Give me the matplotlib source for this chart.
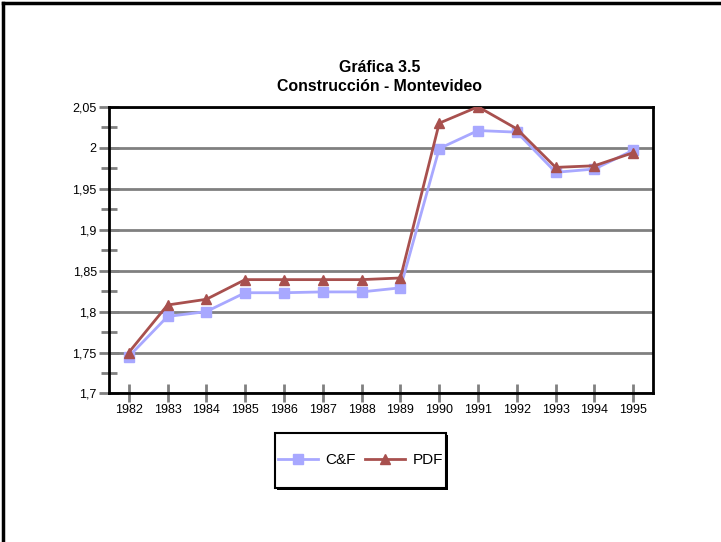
import matplotlib.pyplot as plt
from matplotlib.ticker import MultipleLocator, FuncFormatter
from matplotlib.patches import Rectangle

plt.rcParams['font.family'] = ['Liberation Sans', 'DejaVu Sans']

years = ['1982', '1983', '1984', '1985', '1986', '1987', '1988',
         '1989', '1990', '1991', '1992', '1993', '1994', '1995']
cf = [1.745, 1.794, 1.800, 1.823, 1.823, 1.824, 1.824,
      1.829, 1.999, 2.021, 2.019, 1.970, 1.974, 1.997]
pdf = [1.750, 1.808, 1.815, 1.839, 1.839, 1.839, 1.839,
       1.841, 2.030, 2.050, 2.023, 1.976, 1.978, 1.994]

fig = plt.figure(figsize=(7.21, 5.42), dpi=100)

# outer frame (only top and left edges visible)
fig.add_artist(plt.Line2D([0.004, 0.004], [0, 0.994], color='black', lw=2.5,
                          transform=fig.transFigure))
fig.add_artist(plt.Line2D([0.004, 1], [0.994, 0.994], color='black', lw=2.5,
                          transform=fig.transFigure))

ax = fig.add_axes([0.1516, 0.274, 0.7537, 0.529])
x = list(range(len(years)))

ax.plot(x, cf, color='#A8A8FF', lw=2, marker='s', markersize=7,
        markeredgecolor='#A8A8FF', label='C&F', zorder=3)
ax.plot(x, pdf, color='#A8504E', lw=2, marker='^', markersize=7,
        markeredgecolor='#A8504E', label='PDF', zorder=4)

ax.set_xlim(-0.5, 13.5)
ax.set_ylim(1.7, 2.05)
ax.set_xticks(x)
ax.set_xticklabels(years)
ax.yaxis.set_major_locator(MultipleLocator(0.05))
ax.yaxis.set_minor_locator(MultipleLocator(0.025))
ax.yaxis.set_major_formatter(FuncFormatter(
    lambda v, p: ('%g' % round(v, 3)).replace('.', ',')))

ax.grid(axis='y', which='major', color='#808080', lw=2)
ax.set_axisbelow(True)
for s in ax.spines.values():
    s.set_color('black')
    s.set_linewidth(2)

ax.tick_params(axis='both', which='both', direction='inout', color='#808080',
               width=2, labelsize=9)
ax.tick_params(axis='y', which='major', length=14, pad=2)
ax.tick_params(axis='y', which='minor', length=12)
ax.tick_params(axis='x', which='major', length=13, pad=1)

fig.text(0.527, 0.876, 'Gráfica 3.5', ha='center', va='center',
         fontsize=11.4, fontweight='bold')
fig.text(0.527, 0.840, 'Construcción - Montevideo', ha='center', va='center',
         fontsize=11.4, fontweight='bold')

# legend with shadow box
lx0, ly0, lw_, lh = 275 / 721, 1 - 488 / 542, 171 / 721, 55 / 542
fig.add_artist(Rectangle((lx0 + 0.003, ly0 - 0.004), lw_, lh, facecolor='black',
                         edgecolor='none', transform=fig.transFigure))
fig.add_artist(Rectangle((lx0, ly0), lw_, lh, facecolor='white', edgecolor='black',
                         lw=1.5, transform=fig.transFigure))
leg = fig.legend(loc='center', bbox_to_anchor=(lx0 + lw_ / 2, ly0 + lh / 2),
                 ncol=2, frameon=False, fontsize=11, handlelength=2.6,
                 columnspacing=0.6, handletextpad=0.5)

fig.savefig('out.png', dpi=100)
